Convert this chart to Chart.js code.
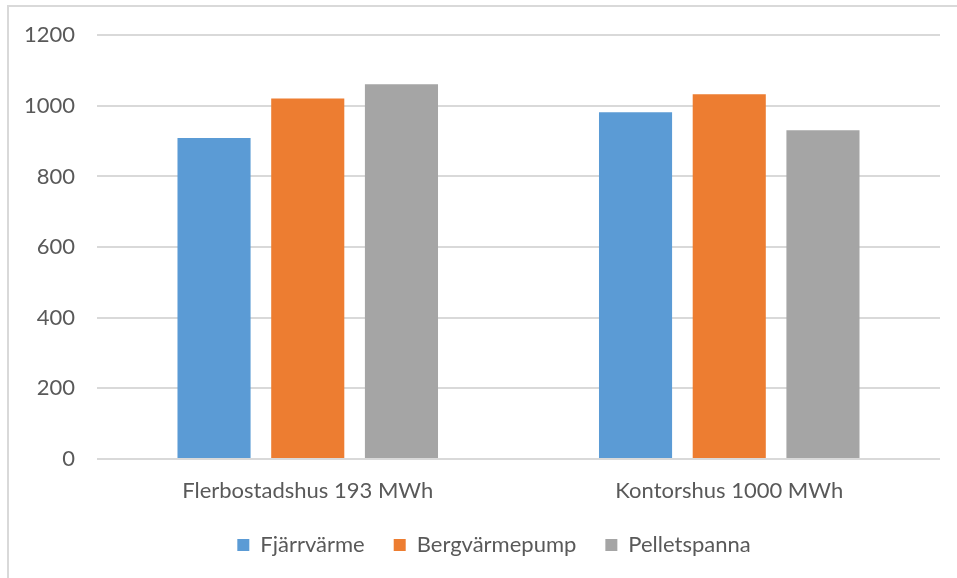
<!DOCTYPE html>
<html>
<head>
<meta charset="utf-8">
<script src="https://cdn.jsdelivr.net/npm/chart.js@4"></script>
<style>
  html, body { margin: 0; padding: 0; background: #ffffff; }
  #wrap { position: relative; width: 957px; height: 578px; overflow: hidden; }
  #frame { position: absolute; left: 7px; top: 5px; width: 960px; height: 580px;
           border-top: 2px solid #d9d9d9; border-left: 2px solid #d9d9d9; pointer-events: none; }
  canvas { position: absolute; left: 0; top: 0; }
</style>
</head>
<body>
<div id="wrap">
  <canvas id="c" width="957" height="578"></canvas>
  <div id="frame"></div>
</div>
<script>
const categories = ['Flerbostadshus 193 MWh', 'Kontorshus 1000 MWh'];
const seriesNames = ['Fjärrvärme', 'Bergvärmepump', 'Pelletspanna'];
const fjarrvarme = [909, 982];
const bergvarmepump = [1021, 1033];
const pelletspanna = [1061, 931];
const yTicks = [0, 200, 400, 600, 800, 1000, 1200];
const colors = ['#5B9BD5', '#ED7D31', '#A5A5A5'];

const FONT = 'Lato, "Liberation Sans", sans-serif';
const TEXT = '#595959';

const seriesValues = [fjarrvarme, bergvarmepump, pelletspanna];

const legendShift = {
  id: 'legendShift',
  afterLayout(chart) {
    const lg = chart.legend;
    if (lg) { lg.left += 24; lg.right += 24; }
  }
};

new Chart(document.getElementById('c'), {
  type: 'bar',
  data: {
    labels: categories,
    datasets: seriesNames.map((n, i) => ({
      label: n,
      data: seriesValues[i],
      backgroundColor: colors[i],
      borderWidth: 0,
      categoryPercentage: 0.667,
      barPercentage: 0.78
    }))
  },
  plugins: [legendShift],
  options: {
    responsive: false,
    animation: false,
    devicePixelRatio: 1,
    layout: { padding: { top: 28.5, right: 17, left: 0, bottom: 12 } },
    plugins: {
      tooltip: { enabled: false },
      legend: {
        position: 'bottom',
        labels: {
          boxWidth: 12,
          boxHeight: 12,
          padding: 29,
          color: TEXT,
          font: { family: FONT, size: 22 }
        }
      }
    },
    scales: {
      x: {
        grid: { display: false, drawTicks: false },
        border: { display: false },
        ticks: { color: TEXT, font: { family: FONT, size: 22 }, padding: 19 },
        afterFit: (s) => { s.height = 46; }
      },
      y: {
        min: 0, max: 1200,
        afterBuildTicks: (s) => { s.ticks = yTicks.map(v => ({ value: v })); },
        grid: { color: '#d9d9d9', lineWidth: 2, drawTicks: false },
        border: { display: false },
        ticks: { color: TEXT, font: { family: FONT, size: 22 }, padding: 22,
                 callback: (v) => String(v) },
        afterFit: (s) => { s.width = 97; }
      }
    }
  }
});
</script>
</body>
</html>
